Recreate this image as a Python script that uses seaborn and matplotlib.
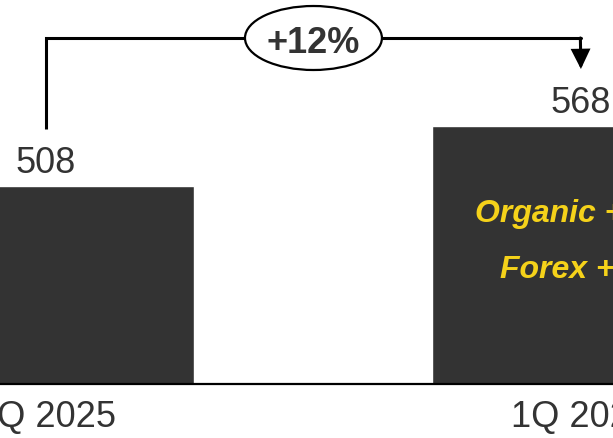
import matplotlib
matplotlib.use("Agg")
import matplotlib.pyplot as plt
from matplotlib.patches import Ellipse
import seaborn as sns
import pandas as pd

# Quarterly revenue
quarters = ["1Q 2025", "1Q 2026"]
revenue = [508, 568]
drivers = ["Organic +10%", "Forex +2%"]

sns.set_style("white")
plt.rcParams["font.family"] = ["Liberation Sans", "DejaVu Sans"]

TEXT = "#333333"
BAR = "#333333"
GOLD = "#F5D21A"

df = pd.DataFrame({"quarter": quarters, "revenue": revenue})

fig = plt.figure(figsize=(6.13, 4.39), dpi=100)
ax = fig.add_axes([0, 54 / 439, 1, 385 / 439])

sns.barplot(data=df, x="quarter", y="revenue", color=BAR, saturation=1,
            width=0.555, ax=ax, zorder=2)

ax.set_xlim(-0.086, 1.06)
ax.set_ylim(310, 695)
ax.set_xlabel("")
ax.set_ylabel("")
ax.set_yticks([])
ax.tick_params(axis="x", length=0, pad=11, labelsize=26, labelcolor=TEXT)
for side in ("left", "right", "top"):
    ax.spines[side].set_visible(False)
ax.spines["bottom"].set_color("black")
ax.spines["bottom"].set_linewidth(1.6)
ax.spines["bottom"].set_zorder(3)

# value labels above the bars
for i, v in enumerate(revenue):
    ax.text(i, v + 14, f"{v}", ha="center", va="baseline",
            fontsize=26, color=TEXT)

# growth bracket from the first bar to the second
top = 656
gap = 57
ax.plot([0, 0, 1], [revenue[0] + gap, top, top], color="black", lw=2.2,
        solid_capstyle="butt", solid_joinstyle="miter", zorder=4)
ax.annotate("", xy=(1, revenue[1] + gap), xytext=(0.999, top),
            arrowprops=dict(arrowstyle="-|>,head_length=0.55,head_width=0.27",
                            mutation_scale=20, lw=2.2, color="black",
                            shrinkA=0, shrinkB=0, joinstyle="miter"),
            zorder=4)
ax.plot([0.999, 1], [top, top], color="black", lw=2.2, zorder=4)

growth = round((revenue[1] / revenue[0] - 1) * 100)
ax.add_patch(Ellipse((0.5, top), width=0.256, height=64, facecolor="white",
                     edgecolor="black", lw=1.6, zorder=5))
ax.text(0.5, top - 14, f"+{growth}%", ha="center", va="baseline",
        fontsize=26, fontweight="bold", color=TEXT, zorder=6)

# growth drivers inside the second bar
for label, y in zip(drivers, [473, 417]):
    ax.text(1, y, label, ha="center", va="baseline", fontsize=23,
            fontweight="bold", fontstyle="italic", color=GOLD, zorder=6)

fig.savefig("out.png", dpi=100)
